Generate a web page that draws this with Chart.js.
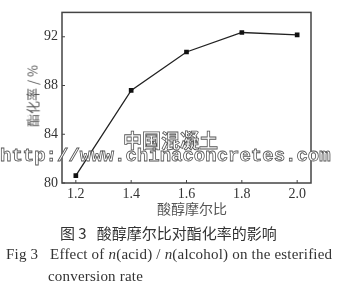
<!DOCTYPE html>
<html>
<head>
<meta charset="utf-8">
<script src="https://cdn.jsdelivr.net/npm/chart.js@4.4.1/dist/chart.umd.min.js"></script>
<style>
  html, body { margin: 0; padding: 0; background: #fff; }
  #wrap { position: relative; width: 339px; height: 293px; overflow: hidden; }
  #wrap canvas { position: absolute; left: 0; top: 0; }
  .txt { position: absolute; white-space: nowrap; color: #333; }
  .cjk { font-family: "Noto Sans CJK SC", sans-serif; }
  .serif { font-family: "Liberation Serif", "DejaVu Serif", serif; }
  .wm { position: absolute; white-space: nowrap; color: #fff; -webkit-text-stroke: 0.8px #555; }
</style>
</head>
<body>
<div id="wrap">
  <canvas id="esterChart" width="339" height="293"></canvas>
  <div class="txt cjk" style="left:32px; top:96px; font-size:13px; color:#555; transform:translate(-50%,-50%) rotate(-90deg);">酯化率 / %</div>
  <div class="txt cjk" style="left:157px; top:198px; font-size:14px; color:#555;">酸醇摩尔比</div>
  <div class="wm cjk" style="left:123px; top:126px; font-size:19px; font-weight:bold;">中国混凝土</div>
  <div class="wm" style="left:0px; top:145px; font-family:'Liberation Mono', monospace; font-size:19px; font-weight:bold;">http://www.chinaconcretes.com</div>
  <div class="txt cjk" style="left:60px; top:222px; font-size:15px;">图 3&nbsp;&nbsp;&nbsp;酸醇摩尔比对酯化率的影响</div>
  <div class="txt serif" style="left:6px; top:246px; font-size:15px; letter-spacing:0.2px;">Fig 3&nbsp;&nbsp; Effect of <i>n</i>(acid) / <i>n</i>(alcohol) on the esterified</div>
  <div class="txt serif" style="left:48px; top:268px; font-size:15px; letter-spacing:0.2px;">conversion rate</div>
</div>
<script>
const ratios = [1.2, 1.4, 1.6, 1.8, 2.0];
const esterRate = [80.6, 87.6, 90.75, 92.35, 92.15];
const xTicks = [1.2, 1.4, 1.6, 1.8, 2.0];
const yTicks = [80, 84, 88, 92];

// frame round the plot and small inward tick marks
const framePlugin = {
    id: 'frame',
    afterDraw(chart) {
        const { ctx, chartArea: a, scales } = chart;
        ctx.save();
        ctx.strokeStyle = '#444';
        ctx.lineWidth = 1.5;
        ctx.strokeRect(a.left, a.top, a.right - a.left, a.bottom - a.top);
        ctx.lineWidth = 1;
        ctx.beginPath();
        for (const v of xTicks) {
            const x = scales.x.getPixelForValue(v);
            ctx.moveTo(x, a.bottom);
            ctx.lineTo(x, a.bottom - 3);
        }
        for (const v of yTicks) {
            const y = scales.y.getPixelForValue(v);
            ctx.moveTo(a.left, y);
            ctx.lineTo(a.left + 3, y);
        }
        ctx.stroke();
        ctx.restore();
    }
};

const ctx = document.getElementById('esterChart').getContext('2d');
new Chart(ctx, {
    type: 'line',
    data: {
        datasets: [{
            data: ratios.map((r, i) => ({ x: r, y: esterRate[i] })),
            borderColor: '#222',
            backgroundColor: '#111',
            borderWidth: 1.3,
            pointStyle: 'rect',
            pointRadius: 3.3,
            pointBorderWidth: 0,
            fill: false,
            tension: 0
        }]
    },
    options: {
        responsive: false,
        animation: false,
        events: [],
        layout: { padding: { left: 0, top: 5, right: 28, bottom: 0 } },
        plugins: { legend: { display: false }, tooltip: { enabled: false } },
        scales: {
            x: {
                type: 'linear',
                min: 1.15,
                max: 2.05,
                afterBuildTicks: s => { s.ticks = xTicks.map(v => ({ value: v })); },
                afterFit: s => { s.height = 110; },
                grid: { display: false, drawTicks: false },
                border: { display: false },
                ticks: {
                    padding: 3,
                    color: '#333',
                    font: { family: 'Liberation Serif', size: 14 },
                    callback: v => v.toFixed(1)
                }
            },
            y: {
                min: 80,
                max: 94,
                afterBuildTicks: s => { s.ticks = yTicks.map(v => ({ value: v })); },
                afterFit: s => { s.width = 62; },
                grid: { display: false, drawTicks: false },
                border: { display: false },
                ticks: {
                    padding: 4,
                    color: '#333',
                    font: { family: 'Liberation Serif', size: 14 }
                }
            }
        }
    },
    plugins: [framePlugin]
});
</script>
</body>
</html>
